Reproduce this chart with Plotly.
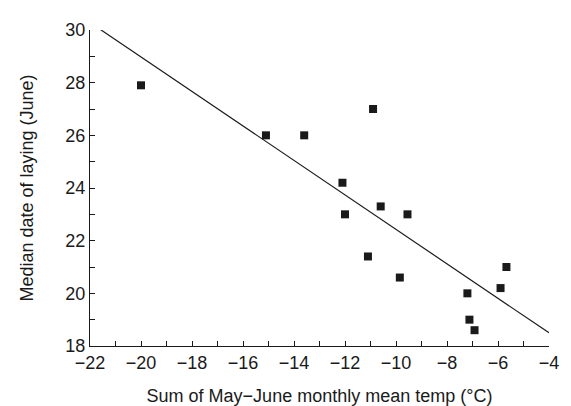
import plotly.graph_objects as go

temp_sum = [-20.0, -10.9, -15.1, -13.6, -12.1, -12.0, -10.6, -9.55, -11.1, -9.85,
            -7.2, -7.12, -6.92, -5.9, -5.67]
laying_date = [27.9, 27.0, 26.0, 26.0, 24.2, 23.0, 23.3, 23.0, 21.4, 20.6,
               20.0, 19.0, 18.6, 20.2, 21.0]

fit_x = [-21.67, -4.0]
fit_y = [30.07, 18.5]

x_ticks = [-22, -20, -18, -16, -14, -12, -10, -8, -6, -4]
y_ticks = [18, 20, 22, 24, 26, 28, 30]

font_family = "Liberation Sans, Arial, sans-serif"
ink = "#1a1a1a"

fig = go.Figure()
fig.add_trace(go.Scatter(x=fit_x, y=fit_y, mode="lines",
                         line=dict(color=ink, width=1.2), showlegend=False,
                         hoverinfo="skip"))
fig.add_trace(go.Scatter(x=temp_sum, y=laying_date, mode="markers",
                         marker=dict(symbol="square", size=8, color=ink,
                                     line=dict(width=0)),
                         showlegend=False))

axis_common = dict(showgrid=False, zeroline=False, showline=True,
                   linecolor=ink, linewidth=1.3, ticks="inside", ticklen=5,
                   tickwidth=1.3, tickcolor=ink, mirror=False,
                   tickfont=dict(family=font_family, size=18, color=ink))

fig.update_xaxes(range=[-22, -4], tickvals=x_ticks,
                 minor=dict(dtick=1, tick0=-22, ticks="inside", ticklen=5,
                            tickwidth=1.3, tickcolor=ink),
                 title=dict(text="Sum of May\u2212June monthly mean temp (\u00b0C)",
                            font=dict(family=font_family, size=18, color=ink),
                            standoff=17),
                 **axis_common)
fig.update_yaxes(range=[18, 30], tickvals=y_ticks,
                 minor=dict(dtick=1, tick0=18, ticks="inside", ticklen=5,
                            tickwidth=1.3, tickcolor=ink),
                 title=dict(text="Median date of laying (June)",
                            font=dict(family=font_family, size=18, color=ink),
                            standoff=26),
                 **axis_common)

# the page body keeps its default 8px margin, so the paper is laid out 8px
# left/up of the window coordinates
fig.update_layout(width=571, height=406,
                  margin=dict(l=82, r=30, t=14, b=68),
                  plot_bgcolor="white", paper_bgcolor="white",
                  font=dict(family=font_family, color=ink))

fig.write_html("out.html")
